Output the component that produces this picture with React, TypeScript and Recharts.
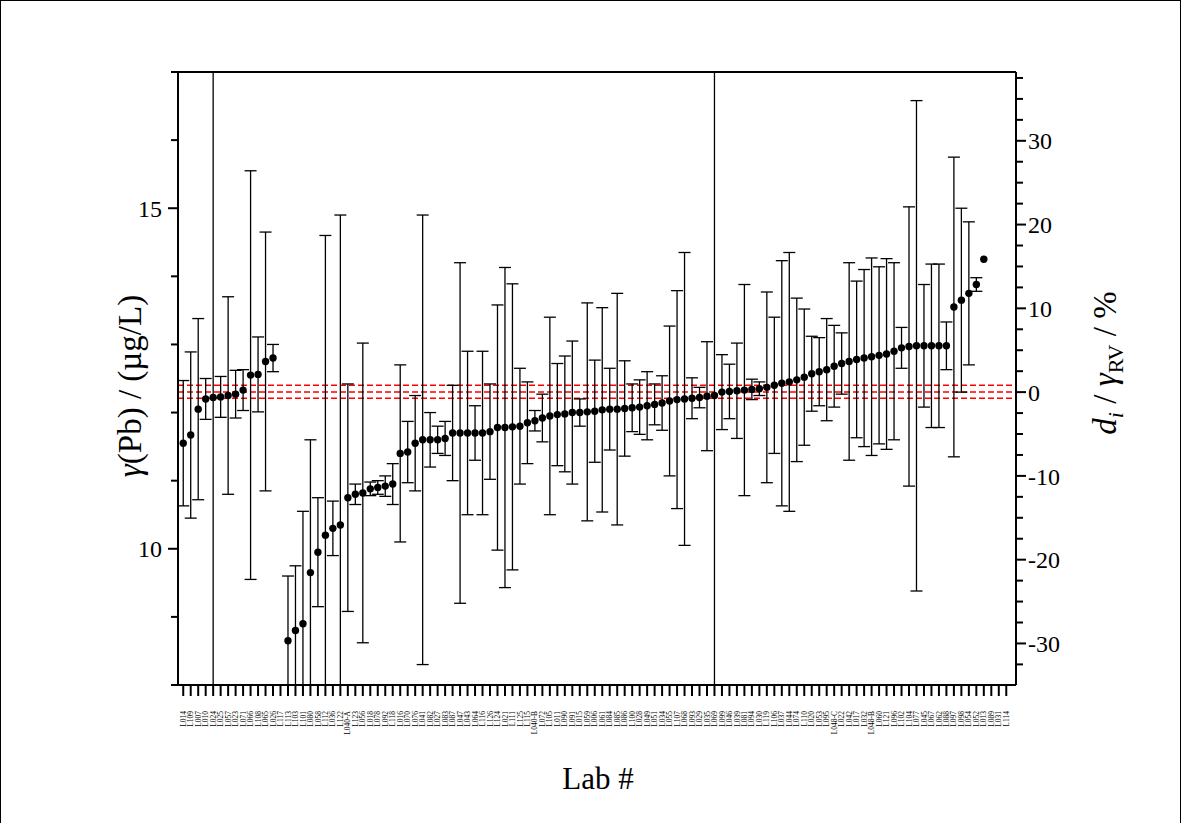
import React from "react";
import { ComposedChart, Scatter, ErrorBar, XAxis, YAxis, ReferenceLine } from "recharts";

// lab codes along the x axis, in plotting order
const LABS = [
  "L014", "L109", "L007", "L010", "L024", "L025", "L057", "L023", "L071", "L066",
  "L108", "L065", "L026", "L117", "L113", "L103", "L101", "L080", "L058", "L112",
  "L036", "L122", "L040-A", "L123", "L056", "L018", "L078", "L092", "L118", "L016",
  "L070", "L076", "L041", "L082", "L027", "L083", "L087", "L047", "L043", "L064",
  "L116", "L126", "L124", "L021", "L111", "L125", "L115", "L040-B", "L072", "L105",
  "L011", "L090", "L091", "L015", "L059", "L006", "L061", "L084", "L085", "L086",
  "L100", "L028", "L049", "L051", "L034", "L055", "L107", "L068", "L093", "L029",
  "L035", "L069", "L099", "L046", "L039", "L081", "L094", "L030", "L119", "L106",
  "L037", "L044", "L074", "L110", "L020", "L053", "L095", "L048-C", "L022", "L042",
  "L017", "L032", "L048-B", "L060", "L121", "L096", "L102", "L104", "L077", "L045",
  "L067", "L062", "L088", "L097", "L098", "L054", "L052", "L013", "L089", "L031",
  "L114",
];

// reported mass concentration gamma(Pb), ug/L (null = no result)
const PB = [
  11.55, 11.67, 12.05, 12.2, 12.22, 12.23, 12.25, 12.27, 12.33, 12.55,
  12.56, 12.75, 12.8, null, 8.65, 8.8, 8.9, 9.65, 9.95, 10.2,
  10.3, 10.35, 10.75, 10.8, 10.82, 10.88, 10.9, 10.92, 10.95, 11.4,
  11.42, 11.55, 11.6, 11.6, 11.6, 11.62, 11.7, 11.7, 11.7, 11.7,
  11.7, 11.72, 11.78, 11.78, 11.79, 11.8, 11.85, 11.88, 11.92, 11.95,
  11.97, 11.98, 12.0, 12.0, 12.01, 12.02, 12.04, 12.05, 12.05, 12.06,
  12.07, 12.08, 12.1, 12.12, 12.14, 12.17, 12.19, 12.2, 12.21, 12.22,
  12.24, 12.25, 12.3, 12.31, 12.32, 12.33, 12.34, 12.35, 12.37, 12.4,
  12.43, 12.45, 12.48, 12.52, 12.57, 12.6, 12.63, 12.68, 12.72, 12.75,
  12.78, 12.8, 12.82, 12.84, 12.86, 12.9, 12.95, 12.97, 12.98, 12.98,
  12.98, 12.98, 12.98, 13.55, 13.65, 13.75, 13.88, 14.25, null, null,
  null,
];

// expanded uncertainty U, ug/L (null = not shown)
const U_PB = [
  0.92, 1.22, 1.33, 0.3, 20, 0.3, 1.45, 0.35, 0.3, 3.0,
  0.55, 1.9, 0.2, null, 0.95, 0.95, 1.65, 1.95, 0.8, 4.4,
  0.4, 4.55, 1.67, 0.15, 2.2, 0.1, 0.1, 0.15, 0.3, 1.3,
  0.45, 0.7, 3.3, 0.4, 0.2, 0.25, 0.7, 2.5, 1.2, 0.4,
  1.2, 0.7, 1.8, 2.35, 2.1, 0.85, 0.6, 0.15, 0.35, 1.45,
  0.75, 0.85, 1.05, 0.2, 1.6, 0.75, 1.5, 0.6, 1.7, 0.7,
  0.35, 0.4, 0.5, 0.3, 0.4, 1.1, 1.6, 2.15, 0.3, 0.15,
  0.8, 20, 0.55, 0.4, 0.7, 1.55, 0.15, 0.1, 1.4, 1.0,
  1.8, 1.9, 1.2, 1.0, 0.55, 0.5, 0.75, 0.6, 0.45, 1.45,
  1.15, 1.3, 1.45, 1.3, 1.4, 1.3, 0.3, 2.05, 3.6, 0.9,
  1.2, 1.2, 0.35, 2.2, 1.35, 1.05, 0.1, null, null, null,
  null,
];

const LEFT_TICKS = [8, 9, 10, 11, 12, 13, 14, 15, 16, 17];
const LEFT_LABELED = [10, 15];
const RIGHT_TICKS = [
  -32.5, -30, -27.5, -25, -22.5, -20, -17.5, -15, -12.5, -10, -7.5, -5, -2.5, 0,
  2.5, 5, 7.5, 10, 12.5, 15, 17.5, 20, 22.5, 25, 27.5, 30, 32.5, 35, 37.5,
];
const RIGHT_LABELED = [-30, -20, -10, 0, 10, 20, 30];
const RV = 12.3; // reference value
const RV_BAND = [12.21, 12.3, 12.4];

const FONT = '"Liberation Serif", "Times New Roman", serif';
const Y_MIN = 8;
const Y_MAX = 17;

const xTicks = LABS.map((_, i) => i + 1);
// bars that run off the frame are cut at the frame, as in the original plot
const points = PB.map((v, i) => {
  const u = U_PB[i];
  return {
    x: i + 1,
    y: v,
    err: v === null || u === null ? undefined : [Math.min(u, v - Y_MIN), Math.min(u, Y_MAX - v)],
  };
}).filter((p) => p.y !== null);
const rightDomain = [(Y_MIN / RV - 1) * 100, (Y_MAX / RV - 1) * 100];

function LabTick({ x, y, payload }: any) {
  const label = LABS[payload.value - 1] ?? "";
  return (
    <g>
      <line x1={x} x2={x} y1={y} y2={y + 11} stroke="#000" strokeWidth={2} />
      <text
        transform={`translate(${x + 2.6},${y + 26}) rotate(-90)`}
        textAnchor="end"
        fontSize={7.5}
        fontFamily={FONT}
        fill="#000"
      >
        {label}
      </text>
    </g>
  );
}

function LeftTick({ x, y, payload }: any) {
  const major = LEFT_LABELED.includes(payload.value);
  const len = major ? 10 : 7;
  return (
    <g>
      <line x1={x} x2={x - len} y1={y} y2={y} stroke="#000" strokeWidth={2} />
      {major ? (
        <text x={x - 16} y={y} dy="0.36em" textAnchor="end" fontSize={24} fontFamily={FONT} fill="#000">
          {payload.value}
        </text>
      ) : null}
    </g>
  );
}

function RightTick({ x, y, payload }: any) {
  const major = RIGHT_LABELED.includes(payload.value);
  const len = major ? 10 : 7;
  return (
    <g>
      <line x1={x} x2={x + len} y1={y} y2={y} stroke="#000" strokeWidth={2} />
      {major ? (
        <text x={x + 12} y={y} dy="0.36em" textAnchor="start" fontSize={24} fontFamily={FONT} fill="#000">
          {payload.value}
        </text>
      ) : null}
    </g>
  );
}

const Dot = (p: any) => <circle cx={p.cx} cy={p.cy} r={3.7} fill="#000" />;

export default function App() {
  return (
    <div
      style={{
        position: "absolute",
        left: 0,
        top: 0,
        width: 1181,
        height: 823,
        boxSizing: "border-box",
        border: "1px solid #000",
        borderBottom: "none",
        background: "#fff",
        fontFamily: FONT,
      }}
    >
      <div style={{ position: "absolute", left: -1, top: -1 }}>
        <ComposedChart width={1181} height={823} margin={{ top: 72, right: 105, bottom: 98, left: 118 }}>
          <XAxis
            xAxisId="lab"
            dataKey="x"
            type="number"
            domain={[0.3, 112.3]}
            allowDataOverflow
            ticks={xTicks}
            interval={0}
            tick={<LabTick />}
            tickSize={0}
            tickMargin={0}
            height={40}
            axisLine={{ stroke: "#000", strokeWidth: 2 }}
          />
          <YAxis
            yAxisId="left"
            type="number"
            domain={[Y_MIN, Y_MAX]}
            allowDataOverflow
            ticks={LEFT_TICKS}
            interval={0}
            tick={<LeftTick />}
            tickSize={0}
            tickMargin={0}
            width={60}
            axisLine={{ stroke: "#000", strokeWidth: 2 }}
          />
          <YAxis
            yAxisId="right"
            orientation="right"
            type="number"
            domain={rightDomain}
            allowDataOverflow
            ticks={RIGHT_TICKS}
            interval={0}
            tick={<RightTick />}
            tickSize={0}
            tickMargin={0}
            width={60}
            axisLine={{ stroke: "#000", strokeWidth: 2 }}
          />
          <ReferenceLine xAxisId="lab" yAxisId="left" y={Y_MAX} stroke="#000" strokeWidth={2} />
          {RV_BAND.map((v) => (
            <ReferenceLine
              key={v}
              xAxisId="lab"
              yAxisId="left"
              y={v}
              stroke="#ff0000"
              strokeWidth={1.5}
              strokeDasharray="6 3"
            />
          ))}
          <Scatter
            xAxisId="lab"
            yAxisId="left"
            data={points}
            dataKey="y"
            shape={Dot}
            isAnimationActive={false}
          >
            <ErrorBar dataKey="err" direction="y" width={6} stroke="#000" strokeWidth={1.3} isAnimationActive={false} />
          </Scatter>
        </ComposedChart>
      </div>
      <div
        style={{
          position: "absolute",
          left: 129,
          top: 385,
          transform: "translate(-50%, -50%) rotate(-90deg)",
          whiteSpace: "nowrap",
          fontSize: 33,
        }}
      >
        <i>γ</i>(Pb) / (µg/L)
      </div>
      <div
        style={{
          position: "absolute",
          left: 1107,
          top: 362,
          transform: "translate(-50%, -50%) rotate(-90deg)",
          whiteSpace: "nowrap",
          fontSize: 33,
        }}
      >
        <i>d</i>
        <sub style={{ fontSize: 22 }}>
          <i>i</i>
        </sub>{" "}
        / <i>γ</i>
        <sub style={{ fontSize: 22 }}>RV</sub> / %
      </div>
      <div
        style={{
          position: "absolute",
          left: 597,
          top: 778,
          transform: "translate(-50%, -50%)",
          whiteSpace: "nowrap",
          fontSize: 31,
        }}
      >
        Lab #
      </div>
    </div>
  );
}
